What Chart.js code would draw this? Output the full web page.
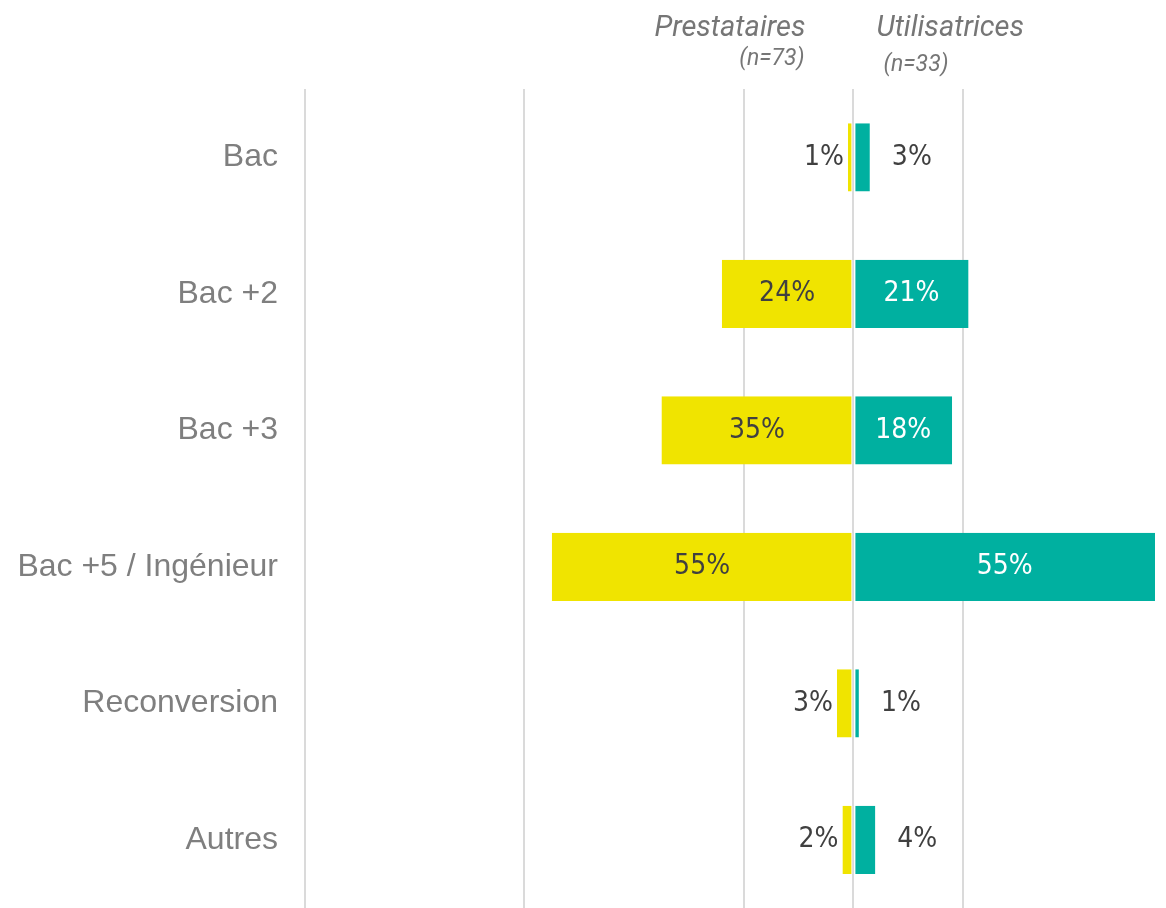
<!DOCTYPE html>
<html>
<head>
<meta charset="utf-8">
<script src="https://cdn.jsdelivr.net/npm/chart.js@4/dist/chart.umd.min.js"></script>
<style>
  html, body { margin: 0; padding: 0; background: #fff; overflow: hidden; }
  canvas { display: block; }
</style>
</head>
<body>
<canvas id="chart" width="1166" height="908"></canvas>
<script>
const categories = ['Bac', 'Bac +2', 'Bac +3', 'Bac +5 / Ingénieur', 'Reconversion', 'Autres'];
const prestataires = [1, 24, 35, 55, 3, 2];
const utilisatrices = [3, 21, 18, 55, 1, 4];
const seriesNames = ['Prestataires', 'Utilisatrices'];
const sampleSizes = ['(n=73)', '(n=33)'];
const gridTicks = [-100, -60, -20, 0, 20, 60];

const YELLOW = '#f0e400';
const TEAL = '#00b0a0';
const LABEL_DARK = '#404040';
const LABEL_FONT = '"DejaVu Sans Condensed", "Liberation Sans Narrow", sans-serif';

// percentage labels, inside the bar when it is wide enough, outside otherwise
const valueLabels = {
  id: 'valueLabels',
  afterDatasetsDraw(chart) {
    const ctx = chart.ctx;
    ctx.save();
    ctx.font = '28px ' + LABEL_FONT;
    ctx.textBaseline = 'middle';
    chart.data.datasets.forEach((ds, di) => {
      const meta = chart.getDatasetMeta(di);
      meta.data.forEach((bar, i) => {
        const v = Math.abs(ds.data[i]);
        const txt = v + '%';
        const left = di === 0;
        if (v >= 10) {
          ctx.fillStyle = left ? LABEL_DARK : '#ffffff';
          ctx.textAlign = 'center';
          ctx.fillText(txt, (bar.x + bar.base) / 2, bar.y);
        } else if (left) {
          ctx.fillStyle = LABEL_DARK;
          ctx.textAlign = 'right';
          ctx.fillText(txt, bar.x - 4, bar.y);
        } else {
          ctx.fillStyle = LABEL_DARK;
          ctx.textAlign = 'left';
          ctx.fillText(txt, bar.x + 22, bar.y);
        }
      });
    });
    ctx.restore();
  }
};

// series headers above the plot
const headers = {
  id: 'headers',
  afterDraw(chart) {
    const ctx = chart.ctx;
    const zero = chart.scales.x.getPixelForValue(0);
    ctx.save();
    ctx.fillStyle = '#767676';
    ctx.textBaseline = 'alphabetic';
    ctx.font = 'italic 29px Roboto, sans-serif';
    ctx.textAlign = 'right';
    ctx.fillText(seriesNames[0], zero - 48, 36);
    ctx.textAlign = 'left';
    ctx.fillText(seriesNames[1], zero + 23, 36);
    ctx.font = 'italic 23px Roboto, sans-serif';
    ctx.textAlign = 'right';
    ctx.fillText(sampleSizes[0], zero - 49, 65);
    ctx.textAlign = 'left';
    ctx.fillText(sampleSizes[1], zero + 30, 71);
    ctx.restore();
  }
};

new Chart(document.getElementById('chart'), {
  type: 'bar',
  data: {
    labels: categories,
    datasets: [
      {
        label: seriesNames[0],
        data: prestataires.map(v => -v),
        backgroundColor: YELLOW,
        borderColor: '#ffffff',
        borderWidth: { right: 1 },
        borderSkipped: false
      },
      {
        label: seriesNames[1],
        data: utilisatrices,
        backgroundColor: TEAL,
        borderColor: '#ffffff',
        borderWidth: { left: 1 },
        borderSkipped: false
      }
    ]
  },
  options: {
    indexAxis: 'y',
    responsive: false,
    animation: false,
    layout: { padding: { top: 89, right: 0, bottom: -4, left: 0 } },
    plugins: {
      legend: { display: false },
      tooltip: { enabled: false }
    },
    datasets: {
      bar: { categoryPercentage: 1, barPercentage: 0.5 }
    },
    scales: {
      x: {
        stacked: true,
        min: -100,
        max: 57,
        afterBuildTicks: axis => { axis.ticks = gridTicks.map(v => ({ value: v })); },
        afterFit: axis => { axis.height = 0; },
        ticks: { display: false },
        border: { display: false },
        grid: { color: '#dadada', lineWidth: 2, drawTicks: false }
      },
      y: {
        stacked: true,
        afterFit: axis => {
          axis.width = 305;
          axis.paddingTop = 0;
          axis.paddingBottom = 0;
        },
        border: { display: false },
        grid: { display: false, drawTicks: false },
        ticks: {
          padding: 27,
          color: '#7f7f7f',
          font: { family: '"Liberation Sans", Arial, sans-serif', size: 32 }
        }
      }
    }
  },
  plugins: [valueLabels, headers]
});
</script>
</body>
</html>
